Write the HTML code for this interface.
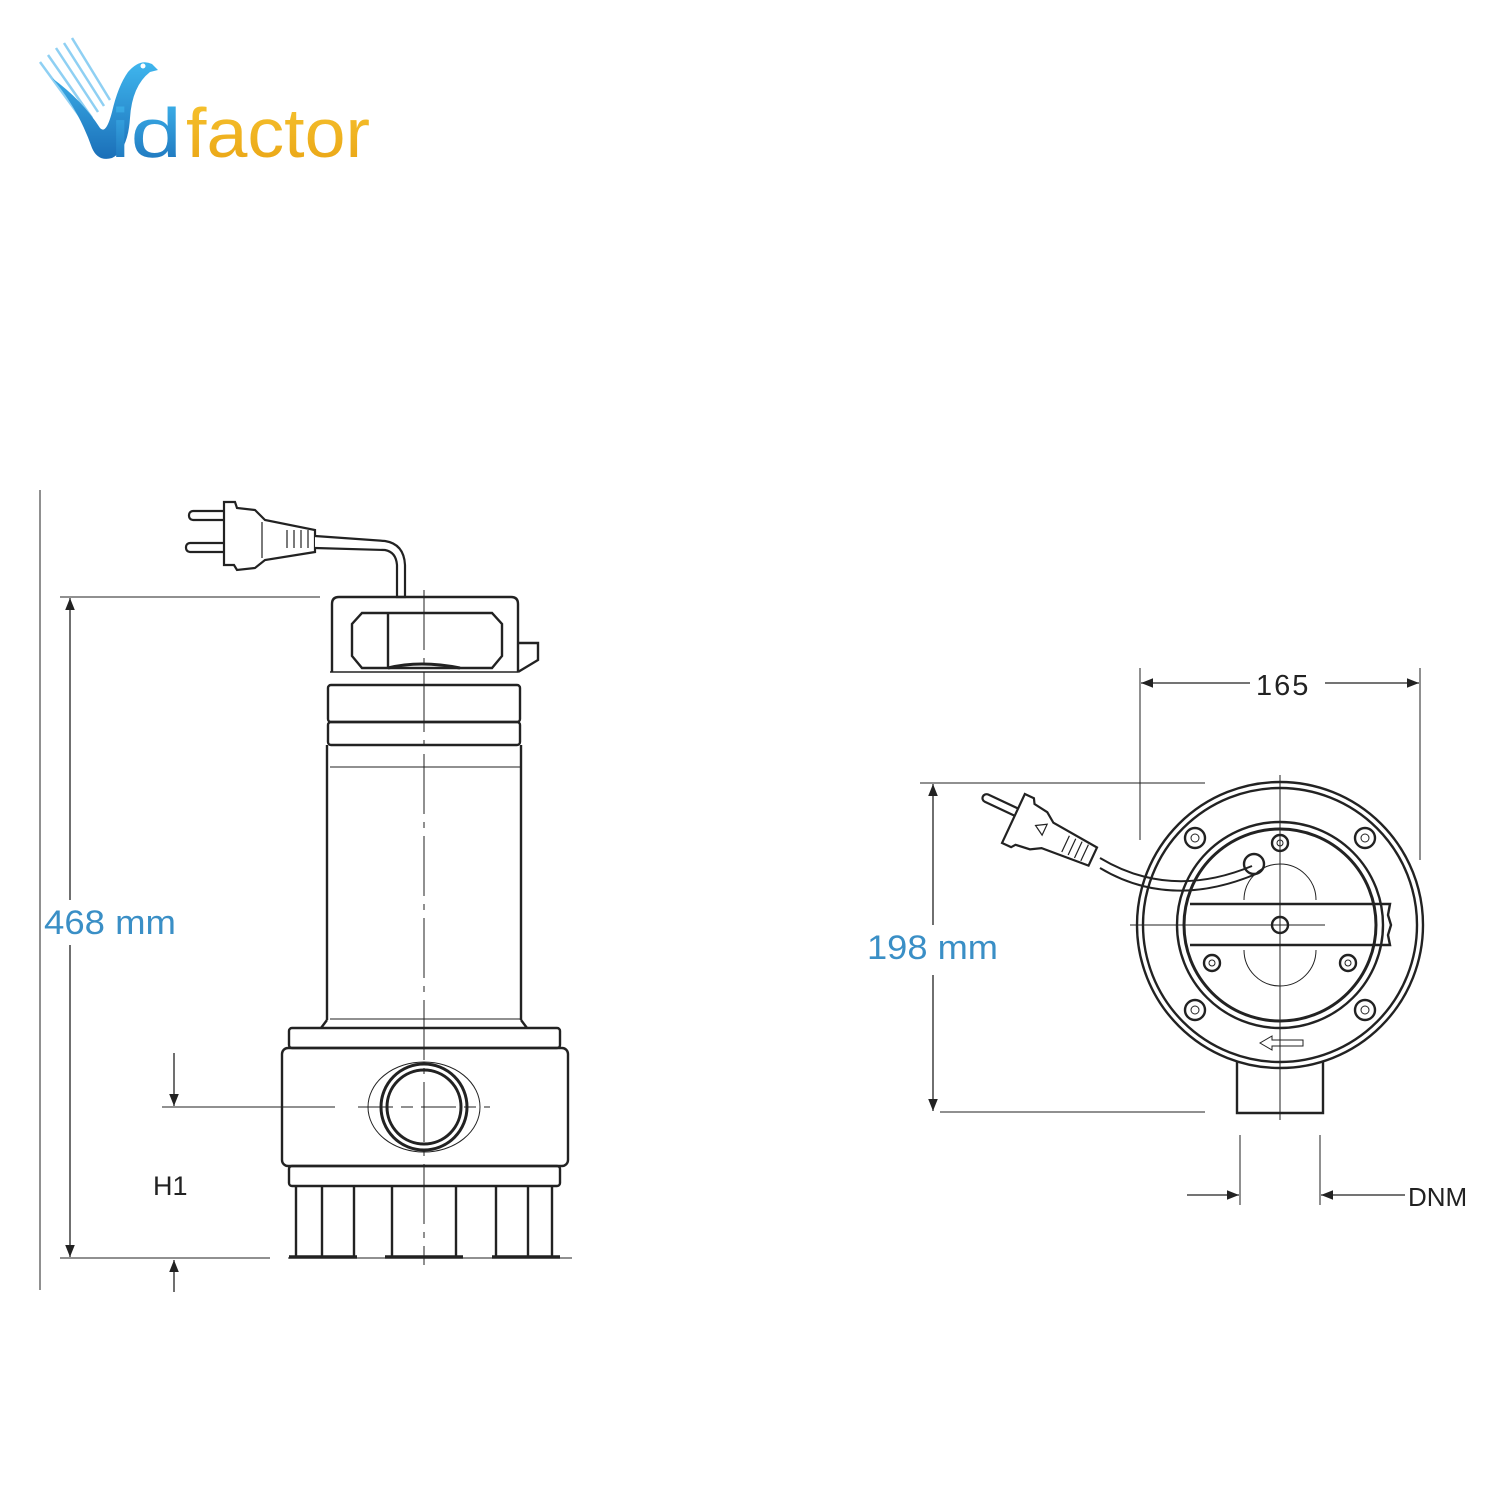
<!DOCTYPE html>
<html><head><style>
html,body{margin:0;padding:0;background:#fff;width:1500px;height:1500px;overflow:hidden}
svg{display:block}
text{font-family:"Liberation Sans",sans-serif}
</style></head><body>
<svg width="1500" height="1500" viewBox="0 0 1500 1500">
<defs>
<marker id="ar" viewBox="0 0 10 10" refX="10" refY="5" markerWidth="22" markerHeight="12" orient="auto" markerUnits="userSpaceOnUse"><path d="M0,1 L10,5 L0,9 Z" fill="#222"/></marker>
<linearGradient id="lb" x1="0" y1="0" x2="0" y2="1"><stop offset="0" stop-color="#3fb6ee"/><stop offset="1" stop-color="#1b6fb8"/></linearGradient>
<linearGradient id="ly" x1="0" y1="0" x2="0" y2="1"><stop offset="0" stop-color="#f7c531"/><stop offset="1" stop-color="#e9a313"/></linearGradient>
</defs>
<!-- logo -->
<g stroke="#8fd0f3" stroke-width="2.5">
<line x1="40" y1="62" x2="86" y2="125"/><line x1="48" y1="55" x2="92" y2="118"/><line x1="56" y1="48" x2="98" y2="112"/><line x1="64" y1="43" x2="104" y2="106"/><line x1="72" y1="38" x2="110" y2="100"/>
</g>
<path d="M52,78 Q78,108 92,148 Q98,162 112,158 Q128,150 130,118 Q132,86 150,72 L158,70 L152,64 Q140,58 128,72 Q118,86 112,112 Q106,135 100,128 Q82,100 52,78 Z" fill="url(#lb)"/>
<circle cx="143" cy="66" r="2.5" fill="#fff"/>
<text x="110" y="157" font-size="70" fill="url(#lb)" textLength="72" lengthAdjust="spacingAndGlyphs">id</text>
<text x="186" y="157" font-size="70" fill="url(#ly)" textLength="184" lengthAdjust="spacingAndGlyphs">factor</text>

<g fill="none" stroke="#222" stroke-width="1.3">
<line x1="40" y1="490" x2="40" y2="1290" stroke-width="1"/>
<line x1="60" y1="597" x2="320" y2="597" stroke-width="1"/>
<line x1="60" y1="1258" x2="270" y2="1258" stroke-width="1"/>
<line x1="288" y1="1258" x2="572" y2="1258" stroke-width="1"/>
<line x1="70" y1="900" x2="70" y2="598" marker-end="url(#ar)"/>
<line x1="70" y1="945" x2="70" y2="1257" marker-end="url(#ar)"/>
<line x1="174" y1="1053" x2="174" y2="1106" marker-end="url(#ar)"/>
<line x1="174" y1="1292" x2="174" y2="1260" marker-end="url(#ar)"/>
<line x1="162" y1="1107" x2="335" y2="1107" stroke-width="1"/>
<line x1="424" y1="590" x2="424" y2="1265" stroke-width="1" stroke-dasharray="60 8 6 8"/>
</g>
<text x="44" y="934" font-size="34" fill="#3a8fc6" textLength="132" lengthAdjust="spacingAndGlyphs">468 mm</text>
<text x="153" y="1195" font-size="27" fill="#222">H1</text>

<!-- plug left -->
<g fill="#fff" stroke="#222" stroke-width="2.2">
<rect x="189" y="511" width="40" height="9" rx="4"/>
<rect x="186" y="543" width="43" height="9" rx="4"/>
<path d="M224,502 L235,502 L237,508 L255,510 L265,520 L315,530 L315,552 L265,560 L255,568 L237,570 L234,565 L224,565 Z"/>
<path d="M315,536 L385,541 Q404,544 405,565 L405,597 L397,597 L397,565 Q396,552 385,550 L315,548" />
</g>
<g stroke="#222" stroke-width="1.2" fill="none">
<line x1="287" y1="530" x2="287" y2="548"/><line x1="294" y1="530" x2="294" y2="548"/><line x1="301" y1="530" x2="301" y2="548"/><line x1="308" y1="530" x2="308" y2="548"/>
<line x1="262" y1="522" x2="262" y2="558"/>
</g>

<!-- pump body left -->
<g fill="none" stroke="#222" stroke-width="2.4">
<path d="M332,672 L332,604 Q332,597 339,597 L511,597 Q518,597 518,604 L518,672"/>
<path d="M518,643 L538,643 L538,660 L518,672"/>
<path d="M362,613 L492,613 L502,624 L502,656 L492,668 L362,668 L352,656 L352,624 Z"/>
<line x1="388" y1="613" x2="388" y2="668"/>
<path d="M388,668 Q420,660 460,668" stroke-width="3"/>
<rect x="328" y="685" width="192" height="37" rx="3"/>
<line x1="330" y1="672" x2="518" y2="672" stroke-width="1.4"/>
<rect x="328" y="722" width="192" height="23" rx="3"/>
<line x1="327" y1="745" x2="327" y2="1020"/>
<line x1="521" y1="745" x2="521" y2="1020"/>
<path d="M327,1020 L321,1028 M521,1020 L527,1028"/>
<rect x="289" y="1028" width="271" height="20" rx="3"/>
<rect x="282" y="1048" width="286" height="118" rx="6"/>
<rect x="289" y="1166" width="271" height="20" rx="3"/>
<path d="M296,1186 V1258 M322,1186 V1258 M354,1186 V1258"/>
<path d="M392,1186 V1258 M456,1186 V1258"/>
<path d="M496,1186 V1258 M528,1186 V1258 M552,1186 V1258"/>
<line x1="289" y1="1257" x2="357" y2="1257" stroke-width="3.5"/>
<line x1="385" y1="1257" x2="463" y2="1257" stroke-width="3.5"/>
<line x1="492" y1="1257" x2="560" y2="1257" stroke-width="3.5"/>
<circle cx="424" cy="1107" r="43" stroke-width="3"/>
<circle cx="424" cy="1107" r="37" stroke-width="3"/>
</g>
<g fill="none" stroke="#222" stroke-width="1">
<line x1="330" y1="767" x2="520" y2="767"/>
<line x1="330" y1="1019" x2="520" y2="1019"/>
<ellipse cx="424" cy="1107" rx="56" ry="45"/>
<line x1="358" y1="1107" x2="490" y2="1107" stroke-dasharray="35 8 12 8"/>
</g>

<!-- right view dims -->
<g fill="none" stroke="#222" stroke-width="1.3">
<line x1="1140" y1="668" x2="1140" y2="840" stroke-width="1"/>
<line x1="1420" y1="668" x2="1420" y2="860" stroke-width="1"/>
<line x1="1250" y1="683" x2="1141" y2="683" marker-end="url(#ar)"/>
<line x1="1325" y1="683" x2="1419" y2="683" marker-end="url(#ar)"/>
<line x1="920" y1="783" x2="1205" y2="783" stroke-width="1"/>
<line x1="940" y1="1112" x2="1205" y2="1112" stroke-width="1"/>
<line x1="933" y1="925" x2="933" y2="784" marker-end="url(#ar)"/>
<line x1="933" y1="975" x2="933" y2="1111" marker-end="url(#ar)"/>
<line x1="1240" y1="1135" x2="1240" y2="1205" stroke-width="1"/>
<line x1="1320" y1="1135" x2="1320" y2="1205" stroke-width="1"/>
<line x1="1187" y1="1195" x2="1239" y2="1195" marker-end="url(#ar)"/>
<line x1="1405" y1="1195" x2="1321" y2="1195" marker-end="url(#ar)"/>
</g>
<text x="1256" y="695" font-size="29" fill="#222" letter-spacing="2">165</text>
<text x="867" y="959" font-size="34" fill="#3a8fc6" textLength="131" lengthAdjust="spacingAndGlyphs">198 mm</text>
<text x="1408" y="1206" font-size="26" fill="#222">DNM</text>

<!-- right pump -->
<g fill="none" stroke="#222" stroke-width="2.4">
<path d="M1237,1062 L1237,1113 L1323,1113 L1323,1062"/>
<circle cx="1280" cy="925" r="143" fill="#fff"/>
<circle cx="1280" cy="925" r="137"/>
<circle cx="1280" cy="925" r="103"/>
<circle cx="1280" cy="925" r="96" stroke-width="3"/>
<path d="M1190,904 L1390,904 L1388,915 L1391,925 L1388,935 L1390,945 L1190,945"/>
<circle cx="1280" cy="925" r="8"/>
<circle cx="1195" cy="838" r="10"/><circle cx="1365" cy="838" r="10"/>
<circle cx="1195" cy="1010" r="10"/><circle cx="1365" cy="1010" r="10"/>
<circle cx="1280" cy="843" r="8"/><circle cx="1212" cy="963" r="8"/><circle cx="1348" cy="963" r="8"/>
<circle cx="1254" cy="864" r="10"/>
<path d="M1100,858 Q1170,900 1252,866 M1100,868 Q1170,910 1256,874" stroke-width="2"/>
</g>
<g fill="none" stroke="#222" stroke-width="1">
<circle cx="1195" cy="838" r="4"/><circle cx="1365" cy="838" r="4"/><circle cx="1195" cy="1010" r="4"/><circle cx="1365" cy="1010" r="4"/>
<circle cx="1280" cy="843" r="3"/><circle cx="1212" cy="963" r="3"/><circle cx="1348" cy="963" r="3"/>
<path d="M1244,900 A36,36 0 0 1 1316,900 M1244,950 A36,36 0 0 0 1316,950"/>
<line x1="1280" y1="775" x2="1280" y2="1120"/>
<line x1="1130" y1="925" x2="1325" y2="925"/>
<path d="M1272,1036 L1260,1043 L1272,1050 L1272,1046 L1303,1046 L1303,1040 L1272,1040 Z"/>
</g>
<!-- right plug -->
<g fill="#fff" stroke="#222" stroke-width="2.2" transform="rotate(25 1050 830)">
<rect x="975" y="824" width="40" height="8" rx="4"/>
<path d="M1012,808 L1022,808 L1025,813 L1040,815 L1050,822 L1100,826 L1100,846 L1050,850 L1040,856 L1025,858 L1022,862 L1012,862 Z"/>
<path d="M1035,832 L1045,826 L1045,838 Z" stroke-width="1.2"/>
<path d="M1070,827 V845 M1077,827 V845 M1084,827 V845 M1091,827 V845" stroke-width="1.2"/>
</g>
</svg>
</body></html>
